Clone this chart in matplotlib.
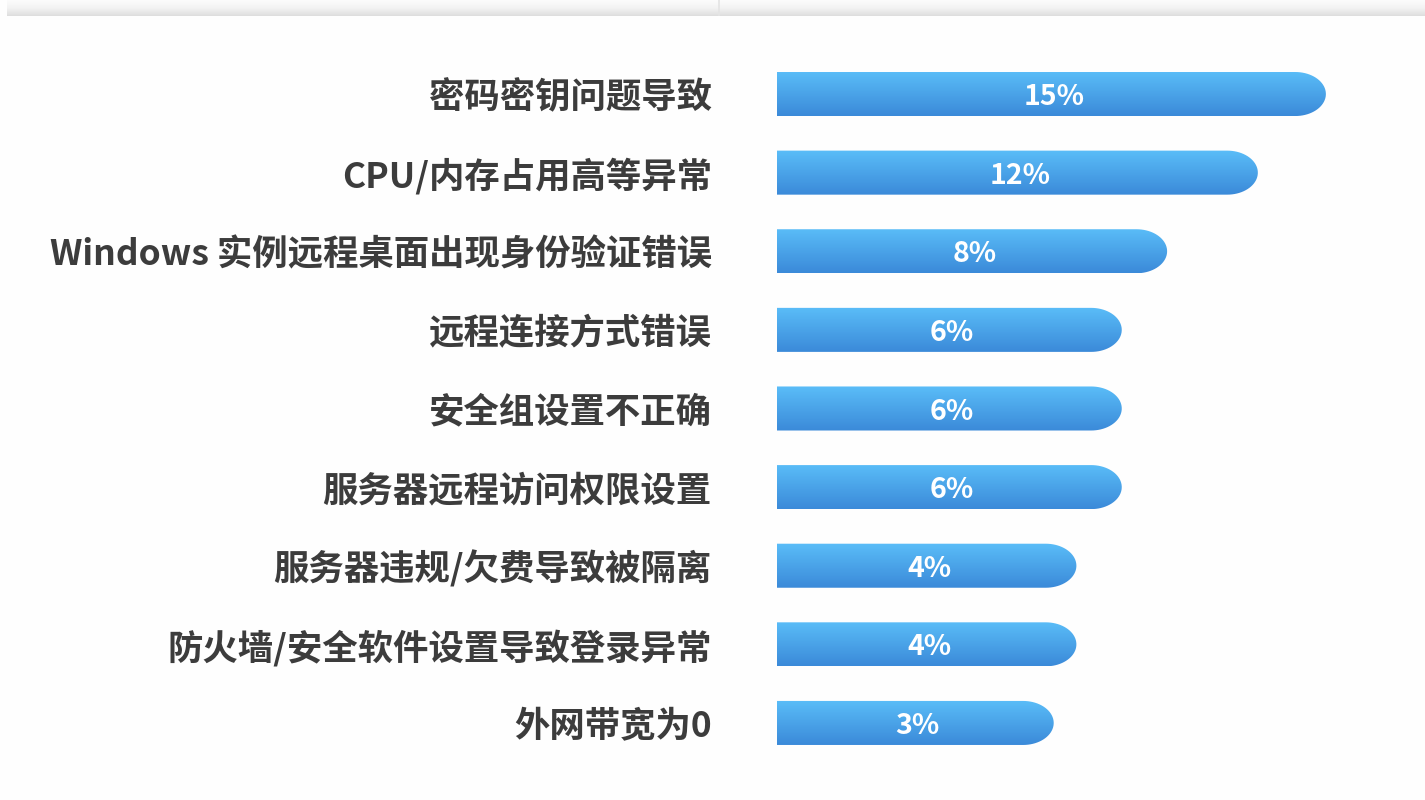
import numpy as np
import matplotlib
matplotlib.use("Agg")
import matplotlib.pyplot as plt
from matplotlib.path import Path
from matplotlib.patches import PathPatch
from matplotlib.colors import LinearSegmentedColormap

plt.rcParams['font.family'] = ['Noto Sans CJK SC', 'DejaVu Sans']

categories = [
    "密码密钥问题导致",
    "CPU/内存占用高等异常",
    "Windows 实例远程桌面出现身份验证错误",
    "远程连接方式错误",
    "安全组设置不正确",
    "服务器远程访问权限设置",
    "服务器违规/欠费导致被隔离",
    "防火墙/安全软件设置导致登录异常",
    "外网带宽为0",
]
values = [15, 12, 8, 6, 6, 6, 4, 4, 3]
value_labels = ["15%", "12%", "8%", "6%", "6%", "6%", "4%", "4%", "3%"]

W, H = 1425, 800
fig = plt.figure(figsize=(W / 100, H / 100), dpi=100, facecolor="#fefefe")

# bars share a common stub start so short bars remain readable
base = -9.2
x_right = 19.37
ax = fig.add_axes([777 / W, 0, 1 - 777 / W, 1])
ax.set_xlim(base, x_right)
ax.set_ylim(8.98, -1.196)
ax.set_facecolor("none")
for s in ax.spines.values():
    s.set_visible(False)
ax.tick_params(left=False, bottom=False, labelbottom=False)

ax.set_yticks(range(len(categories)))
ax.set_yticklabels(categories, fontsize=25.5, fontweight="bold", color="#3c3c3c")
ax.tick_params(axis="y", pad=43.5)

grad_cmap = LinearSegmentedColormap.from_list("bar", ["#5abdf8", "#3b8ad9"])
grad = np.linspace(0, 1, 64).reshape(-1, 1)

half_h = 0.28
rx = 1.35  # horizontal radius of the rounded cap, in data units


def capsule(x0, x1, yc, hh, r):
    r = min(r, (x1 - x0))
    xs = x1 - r
    t = np.linspace(-np.pi / 2, np.pi / 2, 40)
    cap = np.column_stack([xs + r * np.cos(t), yc + hh * np.sin(t)])
    verts = np.vstack([[x0, yc - hh], cap, [x0, yc + hh], [x0, yc - hh]])
    codes = [Path.MOVETO] + [Path.LINETO] * (len(verts) - 2) + [Path.CLOSEPOLY]
    return Path(verts, codes)


for i, (v, lab) in enumerate(zip(values, value_labels)):
    path = capsule(base, v, i, half_h, rx)
    patch = PathPatch(path, facecolor="none", edgecolor="none")
    ax.add_patch(patch)
    im = ax.imshow(grad, cmap=grad_cmap, aspect="auto",
                   extent=(base, v, i + half_h, i - half_h),
                   interpolation="bilinear", zorder=2)
    im.set_clip_path(patch)
    ax.text((base + v) / 2 + 0.1, i + 0.04, lab, ha="center", va="center",
            fontsize=20.5, fontweight="bold", color="white", zorder=3)

# light header strip along the top edge
hdr = fig.add_axes([7 / W, 1 - 16 / H, 1 - 7 / W, 16 / H])
hdr.imshow(np.linspace(0, 1, 32).reshape(-1, 1),
           cmap=LinearSegmentedColormap.from_list("hdr", ["#fcfcfc", "#f3f3f3", "#dedede"]),
           aspect="auto", extent=(0, 1, 1, 0), interpolation="bilinear")
hdr.axvline((719 - 7) / (W - 7), color="#e4e4e4", lw=1.2)
hdr.set_xlim(0, 1)
hdr.set_ylim(1, 0)
hdr.axis("off")

fig.savefig("out.png", dpi=100, facecolor=fig.get_facecolor())
